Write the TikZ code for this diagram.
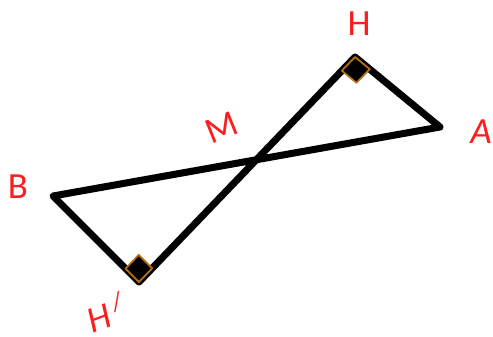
\documentclass[tikz,border=0pt]{standalone}
\usepackage{fontspec}
\setmainfont{Carlito}
\usepackage{xcolor}
\usepackage{tikz}
\usetikzlibrary{calc}
\definecolor{labelred}{RGB}{250,30,30}
\definecolor{markorange}{RGB}{185,110,20}

\begin{document}
\begin{tikzpicture}[x=0.02cm, y=-0.02cm, line join=round]
\tikzstyle{side}=[line width=4pt, draw=black, line cap=round]
\tikzstyle{lbl}=[text=labelred, font=\fontsize{21}{24}\selectfont, inner sep=0pt]
\tikzstyle{rmark}=[fill=black, draw=markorange, line width=1pt]
\useasboundingbox (0,0) rectangle (493,336);
\coordinate (H) at (355,57);
\coordinate (A) at (440,127);
\coordinate (B) at (53,196);
\coordinate (Hp) at (139,282);
\draw[side] (H) -- (A) -- (B) -- (Hp) -- cycle;
% right angle marks
\coordinate (h1) at ($(H)!0.38cm!(Hp)$);
\coordinate (h2) at ($(H)!0.38cm!(A)$);
\filldraw[rmark] (H) -- (h1) -- ($(h1)+(h2)-(H)$) -- (h2) -- cycle;
\coordinate (p1) at ($(Hp)!0.38cm!(H)$);
\coordinate (p2) at ($(Hp)!0.38cm!(B)$);
\filldraw[rmark] (Hp) -- (p1) -- ($(p1)+(p2)-(Hp)$) -- (p2) -- cycle;
\node[lbl] (labH) at (359,24) {H};
\node[lbl] (labA) at (481,132) {\itshape A};
\node[lbl] (labB) at (18,187) {B};
\node[lbl, rotate=22] (labM) at (222,128) {M};
\node[lbl, rotate=20] (labHp) at (106,312) {\itshape H\kern3pt\textsuperscript{/}};
\end{tikzpicture}
\end{document}
